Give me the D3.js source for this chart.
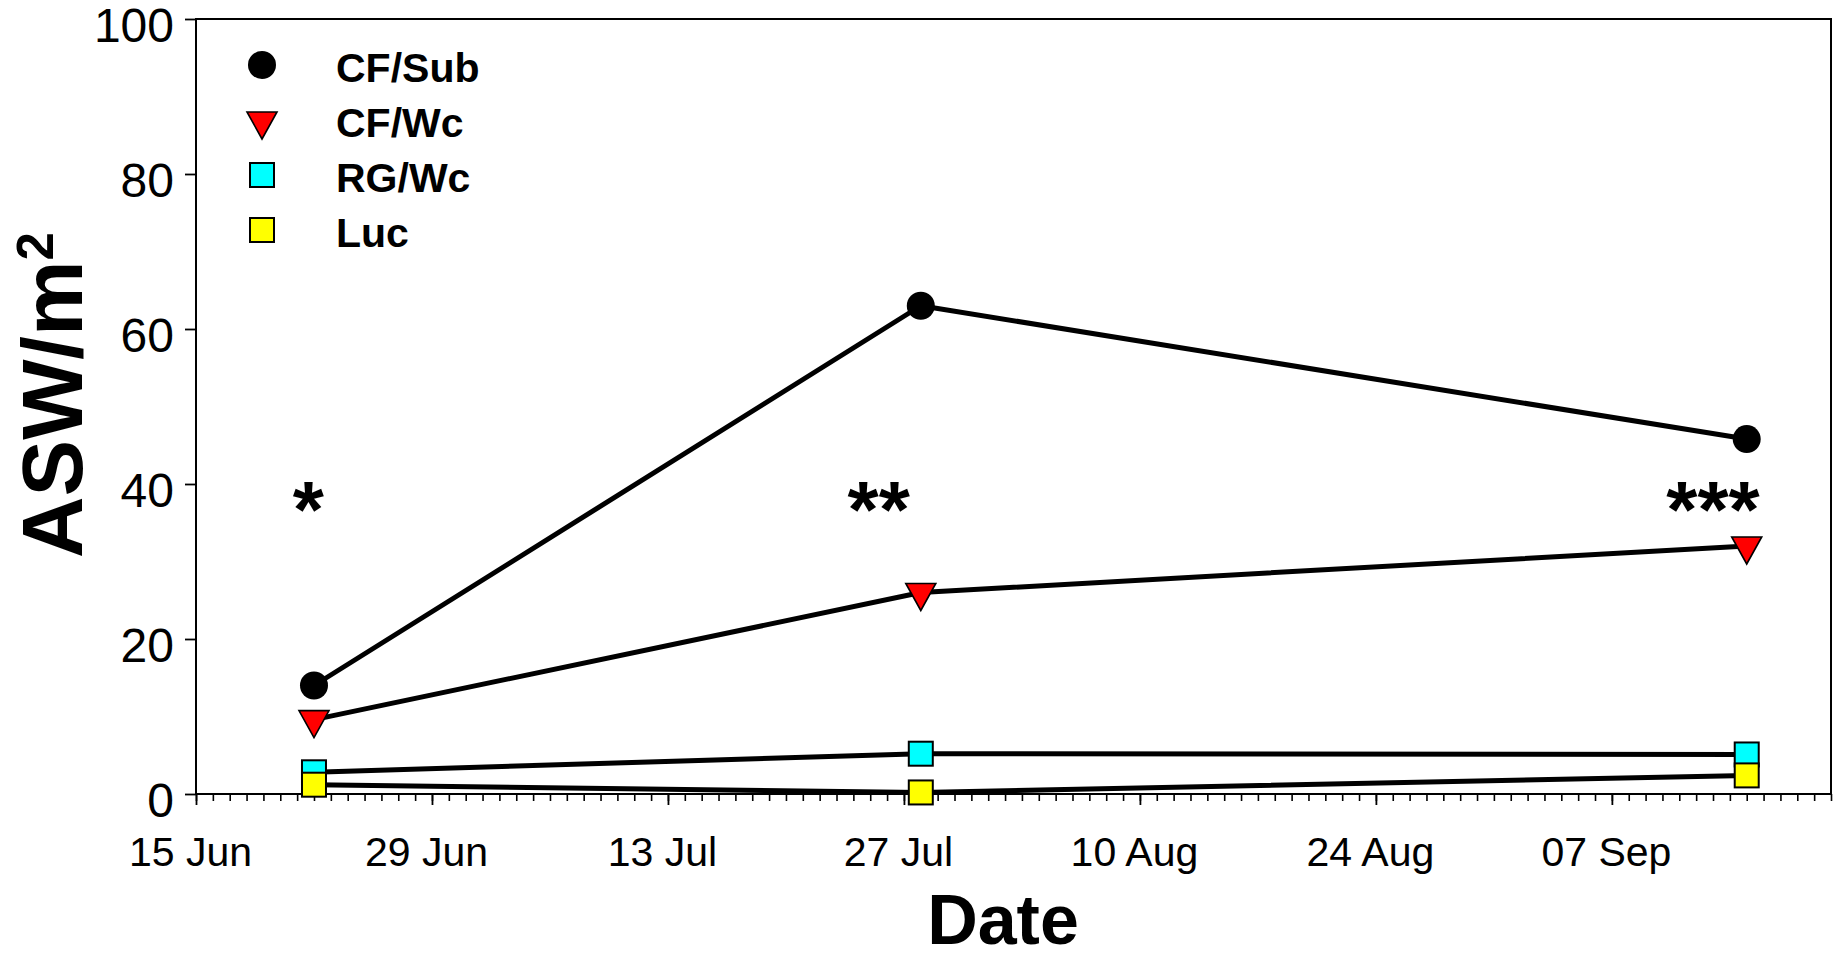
<!DOCTYPE html>
<html>
<head>
<meta charset="utf-8">
<script src="https://cdn.jsdelivr.net/npm/d3@7"></script>
<style>
  html, body { margin: 0; padding: 0; background: #fff; }
  svg { display: block; }
  text { font-family: "Liberation Sans", Arial, sans-serif; fill: #000; }
</style>
</head>
<body>
<svg id="chart" width="1839" height="961"></svg>
<script>
// ---------- data ----------
const sampleDates = [new Date(Date.UTC(2010, 5, 22)), new Date(Date.UTC(2010, 6, 28)), new Date(Date.UTC(2010, 8, 15))];
const seriesNames = ["CF/Sub", "CF/Wc", "RG/Wc", "Luc"];
const cfSub = [14.0, 63.0, 45.8];
const cfWc  = [9.6, 26.0, 32.0];
const rgWc  = [2.8, 5.2, 5.1];
const luc   = [1.2, 0.2, 2.4];
const yTickValues = [0, 20, 40, 60, 80, 100];
const xTickLabels = ["15 Jun", "29 Jun", "13 Jul", "27 Jul", "10 Aug", "24 Aug", "07 Sep"];
const sigLabels = ["*", "**", "***"];
const sigDates = [new Date(Date.UTC(2010, 5, 21, 16)), new Date(Date.UTC(2010, 6, 25, 12)), new Date(Date.UTC(2010, 8, 13))];
const sigValue = 38.8;

// ---------- layout ----------
const X0 = 196, X1 = 1831, Y0 = 19, Y1 = 794;
const svg = d3.select("#chart");
const x = d3.scaleUtc().domain([new Date(Date.UTC(2010, 5, 15)), new Date(Date.UTC(2010, 8, 20))]).range([X0, X1]);
const y = d3.scaleLinear().domain([0, 100]).range([Y1, Y0]);

// frame
svg.append("rect").attr("x", X0).attr("y", Y0).attr("width", X1 - X0).attr("height", Y1 - Y0)
  .attr("fill", "none").attr("stroke", "#000").attr("stroke-width", 2);

// x axis minor (daily)
const allDays = d3.utcDay.range(x.domain()[0], d3.utcDay.offset(x.domain()[1], 1));
svg.append("g").attr("transform", `translate(0,${Y1})`)
  .call(d3.axisBottom(x).tickValues(allDays).tickSize(7).tickFormat(""))
  .call(g => g.select(".domain").remove())
  .call(g => g.selectAll("line").attr("stroke-width", 1.6));

// x axis major
const majorDays = allDays.filter((d, i) => i % 14 === 0).slice(0, xTickLabels.length);
svg.append("g").attr("transform", `translate(0,${Y1})`)
  .call(d3.axisBottom(x).tickValues(majorDays).tickSize(11).tickPadding(0)
        .tickFormat((d, i) => xTickLabels[i]))
  .call(g => g.select(".domain").remove())
  .call(g => g.selectAll("line").attr("stroke-width", 1.8))
  .call(g => g.selectAll("text").attr("font-size", 41).attr("dx", -6).attr("dy", 0).attr("y", 72)
          .style("font-family", '"Liberation Sans", Arial, sans-serif'));

// y axis
svg.append("g").attr("transform", `translate(${X0},0)`)
  .call(d3.axisLeft(y).tickValues(yTickValues).tickSize(11).tickPadding(0).tickFormat(d3.format("d")))
  .call(g => g.select(".domain").remove())
  .call(g => g.selectAll("line").attr("stroke-width", 1.8))
  .call(g => g.selectAll("text").attr("font-size", 48).attr("x", -22).attr("dy", "0.47em")
          .style("font-family", '"Liberation Sans", Arial, sans-serif'));

// axis titles
svg.append("text").attr("x", 1003).attr("y", 944).attr("text-anchor", "middle")
  .attr("font-size", 70).attr("font-weight", "bold").text("Date");

const yl = svg.append("text").attr("transform", "translate(82,395) rotate(-90)")
  .attr("text-anchor", "middle").attr("font-size", 85).attr("font-weight", "bold");
yl.append("tspan").text("ASW/m");
yl.append("tspan").attr("font-size", 51).attr("dy", -29).text("2");

// ---------- marker helpers ----------
const TRI_W = 30, TRI_H = 27;
const triPath = `M${-TRI_W/2},${-TRI_H/3}L${TRI_W/2},${-TRI_H/3}L0,${2*TRI_H/3}Z`;
const SQ = 24;
function drawMarker(g, type, cx, cy) {
  if (type === "circle") {
    g.append("circle").attr("cx", cx).attr("cy", cy).attr("r", 14).attr("fill", "#000");
  } else if (type === "tri") {
    g.append("path").attr("d", triPath).attr("transform", `translate(${cx},${cy})`)
      .attr("fill", "#ff0000").attr("stroke", "#000").attr("stroke-width", 1.6).attr("stroke-linejoin", "miter");
  } else {
    g.append("rect").attr("x", cx - SQ/2).attr("y", cy - SQ/2).attr("width", SQ).attr("height", SQ)
      .attr("fill", type).attr("stroke", "#000").attr("stroke-width", 2);
  }
}

const seriesList = [
  { name: seriesNames[0], values: cfSub, marker: "circle" },
  { name: seriesNames[1], values: cfWc, marker: "tri" },
  { name: seriesNames[2], values: rgWc, marker: "#00ffff" },
  { name: seriesNames[3], values: luc, marker: "#ffff00" }
];

const line = d3.line().x((d, i) => x(sampleDates[i])).y(d => y(d));
seriesList.forEach(s => {
  const g = svg.append("g");
  g.append("path").attr("d", line(s.values)).attr("fill", "none").attr("stroke", "#000")
    .attr("stroke-width", 5).attr("stroke-linejoin", "round");
  s.values.forEach((v, i) => drawMarker(g, s.marker, x(sampleDates[i]), y(v)));
});

// significance stars
sigLabels.forEach((t, i) => {
  svg.append("text").attr("x", x(sigDates[i])).attr("y", y(sigValue) + 44)
    .attr("text-anchor", "middle").attr("font-size", 80).attr("font-weight", "bold").text(t);
});

// legend
const legY = [65, 121, 175, 230];
const legTextY = [82, 137, 192, 247];
seriesList.forEach((s, i) => {
  const g = svg.append("g");
  drawMarker(g, s.marker, 262, legY[i]);
  g.append("text").attr("x", 336).attr("y", legTextY[i]).attr("font-size", 41)
    .attr("font-weight", "bold").text(s.name);
});
</script>
</body>
</html>
